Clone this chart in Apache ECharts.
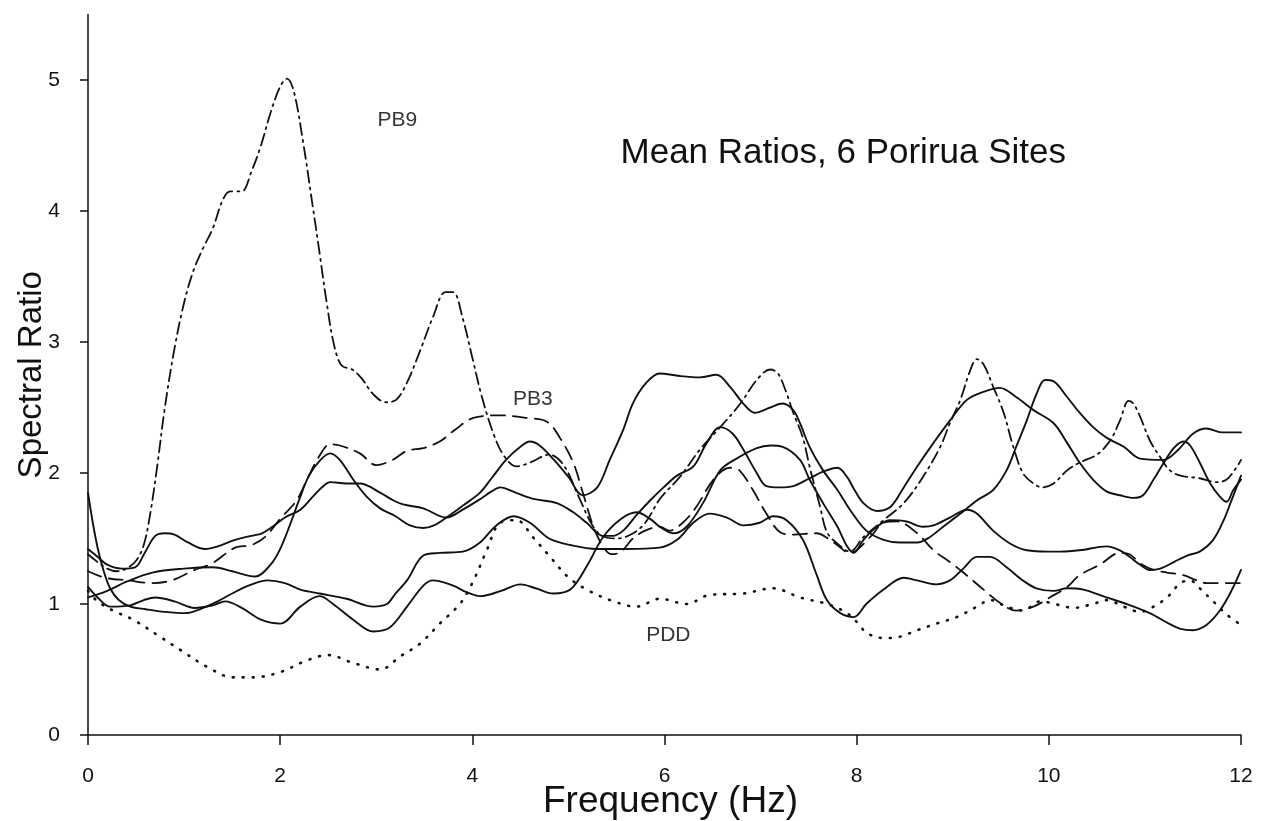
<!DOCTYPE html>
<html>
<head>
<meta charset="utf-8">
<script src="https://cdn.jsdelivr.net/npm/echarts@6/dist/echarts.min.js"></script>
<style>html,body{margin:0;padding:0;background:#fff}#c{width:1266px;height:821px}</style>
</head>
<body>
<div id="c"></div>
<script>
const xTicks = [0, 2, 4, 6, 8, 10, 12];
const yTicks = [0, 1, 2, 3, 4, 5];

const pb9 = [[0,1.38],[0.1,1.32],[0.2,1.27],[0.3,1.25],[0.4,1.27],[0.5,1.33],[0.58,1.45],[0.65,1.7],[0.72,2.05],[0.8,2.5],[0.9,2.95],[1.0,3.3],[1.1,3.55],[1.2,3.72],[1.3,3.87],[1.4,4.08],[1.48,4.15],[1.6,4.15],[1.7,4.3],[1.8,4.5],[1.9,4.75],[2.0,4.95],[2.07,5.01],[2.14,4.92],[2.24,4.52],[2.34,4.03],[2.41,3.68],[2.48,3.32],[2.56,2.98],[2.64,2.82],[2.75,2.79],[2.85,2.72],[2.97,2.6],[3.1,2.54],[3.21,2.56],[3.32,2.69],[3.46,2.94],[3.59,3.19],[3.72,3.38],[3.8,3.38],[3.9,3.18],[4.0,2.88],[4.1,2.58],[4.22,2.3],[4.33,2.13],[4.46,2.05],[4.6,2.08],[4.8,2.14],[4.95,2.06],[5.1,1.83],[5.25,1.6],[5.35,1.52],[5.5,1.5],[5.65,1.53],[5.8,1.62],[5.95,1.8],[6.16,1.97],[6.37,2.18],[6.58,2.35],[6.79,2.53],[6.96,2.71],[7.1,2.79],[7.18,2.76],[7.27,2.61],[7.34,2.46],[7.44,2.27],[7.51,2.05],[7.62,1.74],[7.69,1.55],[7.8,1.46],[7.93,1.4],[8.07,1.51],[8.28,1.64],[8.49,1.77],[8.69,1.97],[8.87,2.2],[8.97,2.38],[9.08,2.56],[9.18,2.78],[9.25,2.87],[9.32,2.83],[9.42,2.66],[9.53,2.46],[9.63,2.2],[9.73,2.0],[9.84,1.92],[9.93,1.89],[10.05,1.92],[10.19,2.02],[10.32,2.08],[10.5,2.14],[10.64,2.25],[10.74,2.4],[10.83,2.55],[10.88,2.53],[10.95,2.43],[11.05,2.25],[11.16,2.12],[11.26,2.02],[11.37,1.98],[11.57,1.96],[11.75,1.93],[11.85,1.95],[11.96,2.05],[12,2.1]];

const pb3 = [[0,1.25],[0.18,1.2],[0.42,1.18],[0.66,1.16],[0.87,1.18],[1.11,1.26],[1.29,1.31],[1.53,1.43],[1.7,1.45],[1.84,1.51],[2.0,1.65],[2.17,1.79],[2.28,1.95],[2.4,2.12],[2.52,2.22],[2.62,2.21],[2.83,2.15],[3.0,2.06],[3.17,2.1],[3.32,2.17],[3.49,2.19],[3.66,2.24],[3.82,2.33],[4.01,2.42],[4.29,2.44],[4.57,2.42],[4.78,2.39],[4.91,2.27],[5.05,2.08],[5.15,1.85],[5.26,1.59],[5.36,1.44],[5.45,1.38],[5.55,1.4],[5.67,1.5],[5.8,1.56],[5.95,1.59],[6.05,1.56],[6.19,1.62],[6.33,1.74],[6.51,1.95],[6.68,2.04],[6.78,2.02],[6.92,1.87],[7.06,1.69],[7.2,1.55],[7.34,1.53],[7.58,1.54],[7.76,1.47],[7.93,1.39],[8.14,1.51],[8.28,1.62],[8.42,1.63],[8.63,1.54],[8.8,1.41],[8.97,1.32],[9.11,1.24],[9.32,1.11],[9.49,1.01],[9.66,0.95],[9.84,0.98],[10.01,1.05],[10.19,1.13],[10.32,1.22],[10.53,1.3],[10.74,1.39],[10.84,1.38],[10.95,1.31],[11.09,1.26],[11.23,1.24],[11.4,1.22],[11.54,1.18],[11.64,1.16],[12,1.16]];

const pdd = [[0,1.1],[0.1,1.02],[0.26,0.95],[0.47,0.88],[0.75,0.75],[0.96,0.65],[1.24,0.52],[1.51,0.44],[1.72,0.44],[2.0,0.48],[2.28,0.57],[2.5,0.61],[2.76,0.55],[3.04,0.5],[3.25,0.6],[3.46,0.7],[3.66,0.85],[3.87,1.0],[4.0,1.16],[4.15,1.41],[4.29,1.62],[4.46,1.64],[4.63,1.51],[4.81,1.36],[4.99,1.21],[5.19,1.11],[5.47,1.02],[5.71,0.98],[5.95,1.04],[6.23,1.0],[6.47,1.07],[6.82,1.08],[7.13,1.12],[7.41,1.05],[7.69,1.0],[7.9,0.93],[8.03,0.84],[8.1,0.78],[8.28,0.74],[8.45,0.75],[8.63,0.8],[8.83,0.85],[9.04,0.9],[9.25,0.98],[9.39,1.03],[9.56,0.98],[9.73,0.95],[9.91,1.02],[10.12,0.99],[10.25,0.97],[10.46,1.0],[10.6,1.03],[10.78,0.98],[10.95,0.94],[11.09,0.98],[11.23,1.05],[11.37,1.16],[11.47,1.18],[11.57,1.12],[11.71,1.02],[11.85,0.92],[12,0.84]];

const siteA = [[0,1.85],[0.05,1.62],[0.1,1.43],[0.16,1.26],[0.23,1.12],[0.32,1.03],[0.44,0.98],[0.6,0.96],[0.8,0.94],[1.01,0.93],[1.2,0.97],[1.35,1.02],[1.5,1.08],[1.67,1.14],[1.87,1.18],[2.05,1.16],[2.21,1.11],[2.41,1.08],[2.69,1.04],[2.97,0.98],[3.11,1.0],[3.2,1.08],[3.32,1.18],[3.49,1.37],[3.66,1.39],[3.9,1.4],[4.08,1.47],[4.25,1.6],[4.43,1.67],[4.6,1.62],[4.8,1.5],[5.02,1.45],[5.3,1.42],[5.6,1.42],[5.95,1.43],[6.13,1.49],[6.3,1.62],[6.47,1.69],[6.65,1.66],[6.82,1.6],[6.99,1.62],[7.13,1.67],[7.27,1.64],[7.44,1.49],[7.58,1.23],[7.69,1.03],[7.83,0.93],[7.97,0.9],[8.1,1.0],[8.28,1.11],[8.49,1.2],[8.63,1.18],[8.83,1.15],[8.97,1.18],[9.11,1.27],[9.25,1.36],[9.39,1.36],[9.56,1.28],[9.73,1.18],[9.87,1.12],[10.05,1.1],[10.19,1.12],[10.36,1.11],[10.6,1.05],[10.81,1.0],[11.05,0.93],[11.25,0.85],[11.37,0.81],[11.5,0.8],[11.64,0.84],[11.78,0.95],[11.9,1.1],[12,1.26]];

const siteB = [[0,1.13],[0.1,1.05],[0.23,0.98],[0.44,0.99],[0.58,1.03],[0.7,1.05],[0.9,1.02],[1.11,0.97],[1.3,0.99],[1.43,1.02],[1.6,0.97],[1.8,0.88],[2.0,0.85],[2.21,0.98],[2.41,1.06],[2.55,1.0],[2.76,0.88],[2.97,0.79],[3.14,0.82],[3.32,0.98],[3.49,1.14],[3.59,1.18],[3.8,1.14],[3.94,1.09],[4.08,1.06],[4.3,1.1],[4.5,1.15],[4.66,1.12],[4.84,1.08],[5.02,1.11],[5.2,1.3],[5.36,1.51],[5.55,1.65],[5.71,1.7],[5.85,1.65],[5.95,1.59],[6.09,1.54],[6.23,1.59],[6.4,1.77],[6.58,2.02],[6.75,2.11],[6.96,2.19],[7.1,2.21],[7.23,2.2],[7.41,2.1],[7.51,1.95],[7.65,1.77],[7.8,1.59],[7.9,1.44],[7.97,1.39],[8.07,1.49],[8.21,1.59],[8.35,1.64],[8.52,1.63],[8.69,1.59],[8.8,1.6],[8.97,1.66],[9.15,1.72],[9.25,1.69],[9.42,1.56],[9.6,1.46],[9.77,1.41],[10.0,1.4],[10.12,1.4],[10.32,1.41],[10.6,1.44],[10.74,1.41],[10.84,1.36],[10.95,1.3],[11.05,1.26],[11.16,1.27],[11.3,1.32],[11.44,1.37],[11.57,1.4],[11.71,1.49],[11.82,1.64],[11.89,1.77],[12,1.98]];

const siteC = [[0,1.05],[0.2,1.1],[0.4,1.17],[0.67,1.24],[1.0,1.27],[1.3,1.28],[1.5,1.25],[1.74,1.21],[1.9,1.3],[2.0,1.42],[2.1,1.6],[2.2,1.8],[2.3,1.98],[2.42,2.1],[2.52,2.15],[2.62,2.1],[2.76,1.95],[2.9,1.82],[3.04,1.73],[3.2,1.67],[3.35,1.6],[3.49,1.58],[3.6,1.6],[3.73,1.66],[3.9,1.75],[4.08,1.85],[4.2,1.96],[4.35,2.1],[4.5,2.2],[4.6,2.24],[4.7,2.21],[4.85,2.1],[5.0,1.97],[5.15,1.83],[5.3,1.89],[5.43,2.1],[5.57,2.33],[5.67,2.53],[5.8,2.68],[5.95,2.76],[6.16,2.74],[6.37,2.73],[6.54,2.75],[6.68,2.66],[6.82,2.53],[6.94,2.46],[7.1,2.5],[7.23,2.53],[7.34,2.48],[7.41,2.38],[7.51,2.2],[7.65,2.02],[7.8,1.87],[7.93,1.72],[8.1,1.56],[8.28,1.49],[8.45,1.47],[8.63,1.47],[8.76,1.51],[8.9,1.59],[9.08,1.69],[9.25,1.79],[9.42,1.87],[9.56,2.02],[9.66,2.2],[9.77,2.4],[9.87,2.6],[9.96,2.71],[10.05,2.7],[10.19,2.58],[10.32,2.46],[10.46,2.35],[10.6,2.27],[10.78,2.2],[10.95,2.11],[11.19,2.1],[11.35,2.18],[11.5,2.3],[11.64,2.34],[11.8,2.31],[12,2.31]];

const siteD = [[0,1.42],[0.1,1.36],[0.2,1.3],[0.35,1.27],[0.49,1.28],[0.59,1.39],[0.7,1.52],[0.8,1.54],[0.9,1.53],[1.04,1.47],[1.22,1.42],[1.35,1.44],[1.53,1.49],[1.7,1.52],[1.81,1.54],[1.92,1.59],[2.05,1.66],[2.21,1.72],[2.34,1.82],[2.45,1.9],[2.52,1.93],[2.69,1.92],[2.83,1.92],[3.04,1.85],[3.18,1.79],[3.28,1.76],[3.49,1.73],[3.73,1.66],[3.9,1.72],[4.08,1.8],[4.2,1.86],[4.29,1.89],[4.45,1.85],[4.65,1.8],[4.88,1.77],[5.05,1.7],[5.19,1.62],[5.36,1.52],[5.46,1.52],[5.57,1.56],[5.71,1.68],[5.85,1.79],[5.99,1.89],[6.13,1.98],[6.3,2.05],[6.44,2.23],[6.58,2.35],[6.71,2.3],[6.82,2.18],[6.96,2.0],[7.06,1.9],[7.2,1.89],[7.34,1.9],[7.51,1.96],[7.65,2.01],[7.8,2.04],[7.9,1.97],[7.97,1.88],[8.07,1.77],[8.21,1.71],[8.35,1.74],[8.49,1.89],[8.63,2.05],[8.8,2.23],[8.97,2.4],[9.15,2.56],[9.32,2.62],[9.49,2.65],[9.66,2.58],[9.84,2.48],[10.05,2.38],[10.19,2.23],[10.32,2.08],[10.46,1.95],[10.6,1.86],[10.74,1.83],[10.88,1.81],[10.98,1.83],[11.09,1.95],[11.19,2.07],[11.3,2.19],[11.4,2.24],[11.47,2.21],[11.57,2.08],[11.68,1.92],[11.78,1.82],[11.85,1.78],[11.92,1.87],[12,1.95]];

const labels = [
  {text: 'PB9', x: 3.22, y: 4.69},
  {text: 'PB3', x: 4.63, y: 2.56},
  {text: 'PDD', x: 6.04, y: 0.76}
];
const titleText = 'Mean Ratios, 6 Porirua Sites';

const FONT = "'Liberation Sans', Arial, Helvetica, sans-serif";
const INK = '#111';
const chart = echarts.init(document.getElementById('c'), null, {renderer: 'canvas'});

function line(data, type, width) {
  return {
    type: 'line', data: data, showSymbol: false, smooth: 0.35, silent: true,
    lineStyle: {color: INK, width: width || 1.8, type: type || 'solid', cap: 'round'},
    z: 3
  };
}

const option = {
  backgroundColor: '#fff',
  animation: false,
  title: {
    text: titleText, right: 195, top: 131,
    textStyle: {fontFamily: FONT, fontSize: 35, fontWeight: 'normal', color: INK}
  },
  grid: {left: 88, right: 25, top: 14.5, bottom: 86, containLabel: false, outerBoundsMode: 'none'},
  xAxis: {
    type: 'value', min: 0, max: 12, interval: 2,
    name: 'Frequency (Hz)', nameLocation: 'middle', nameGap: 48, nameMoveOverlap: false,
    nameTextStyle: {fontFamily: FONT, fontSize: 37, color: INK, padding: [0, 0, 0, 12]},
    axisLine: {lineStyle: {color: INK, width: 1.5}},
    axisTick: {show: true, length: 10, lineStyle: {color: INK, width: 1.5}, customValues: xTicks},
    axisLabel: {fontFamily: FONT, fontSize: 21, color: INK, margin: 31, customValues: xTicks},
    splitLine: {show: false}
  },
  yAxis: {
    type: 'value', min: 0, max: 5.5, interval: 1,
    name: 'Spectral Ratio', nameLocation: 'middle', nameGap: 40, nameMoveOverlap: false,
    nameTextStyle: {fontFamily: FONT, fontSize: 33, color: INK},
    axisLine: {show: true, lineStyle: {color: INK, width: 1.5}},
    axisTick: {show: true, length: 8, lineStyle: {color: INK, width: 1.5}, customValues: yTicks},
    axisLabel: {fontFamily: FONT, fontSize: 21, color: INK, margin: 28, customValues: yTicks},
    splitLine: {show: false}
  },
  series: [
    line(pb9, [12, 5, 2, 5], 1.8),
    line(pb3, [14, 8], 1.8),
    line(pdd, [1, 9], 2.6),
    line(siteA, 'solid', 1.9),
    line(siteB, 'solid', 1.9),
    line(siteC, 'solid', 1.9),
    line(siteD, 'solid', 1.9),
    {
      type: 'scatter', data: labels.map(l => [l.x, l.y, l.text]), symbolSize: 0, silent: true,
      label: {show: true, position: 'inside', formatter: p => p.data[2],
        fontFamily: FONT, fontSize: 21, color: '#000'}
    }
  ]
};
chart.setOption(option);
</script>
</body>
</html>
